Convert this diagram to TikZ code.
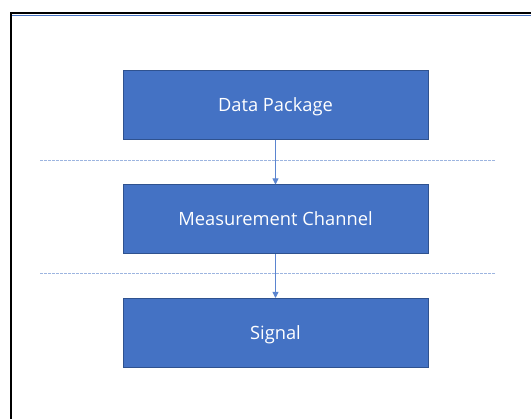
\documentclass[tikz,border=0pt]{standalone}
\usepackage{fontspec}
\setmainfont{Open Sans}
\usetikzlibrary{arrows.meta}
\definecolor{boxfill}{HTML}{4472C4}
\definecolor{boxedge}{HTML}{2F528F}
\definecolor{linkblue}{HTML}{5B85D0}
\definecolor{sepblue}{HTML}{9DB5E0}
\tikzset{
  layer/.style={draw=boxedge, line width=1pt, fill=boxfill, minimum width=305pt,
    minimum height=69pt, inner sep=0pt, text=white, text height=13pt, text depth=0pt,
    font=\fontsize{18.3pt}{20pt}\selectfont},
  link/.style={draw=linkblue, line width=0.9pt, -{Triangle[length=6pt,width=6pt]}},
  separator/.style={draw=sepblue, line width=0.8pt, dash pattern=on 2.5pt off 1.5pt},
}
\begin{document}
\begin{tikzpicture}[x=1pt, y=-1pt]
  \useasboundingbox (0,0) rectangle (531,419);
  % outer frame (top and left edges)
  \draw[boxfill, line width=1pt] (12,15.2) -- (531,15.2);
  \draw[black, line width=2.2pt] (11,419) -- (11,13) -- (531,13);
  % layers
  \node[layer] (pkg) at (275.5,105.5) {Data Package};
  \node[layer] (chan) at (275.5,219.5) {Measurement Channel};
  \node[layer] (sig) at (275.5,333) {Signal};
  % layer separators
  \coordinate (s1l) at (40,160.5);
  \coordinate (s1r) at (496,160.5);
  \coordinate (s2l) at (40,273);
  \coordinate (s2r) at (496,273);
  \draw[separator] (s1l) -- (s1r);
  \draw[separator] (s2l) -- (s2r);
  % links
  \draw[link] (pkg) -- (chan);
  \draw[link] (chan) -- (sig);
\end{tikzpicture}
\end{document}
